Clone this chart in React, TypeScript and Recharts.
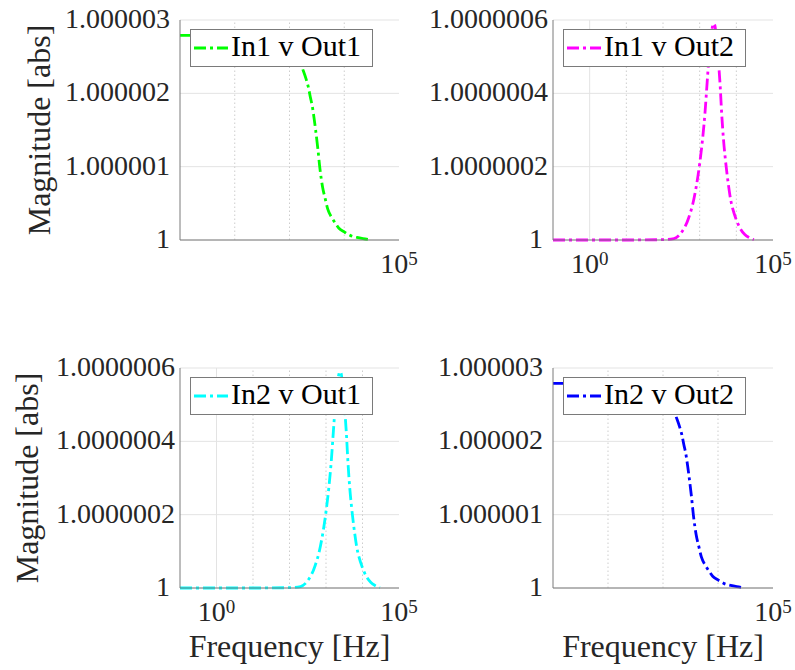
import {
  CartesianGrid,
  Legend,
  Line,
  LineChart,
  ReferenceLine,
  XAxis,
  YAxis,
} from "recharts";

const SERIF = "Liberation Serif";
const INK = "#262626";
const FRAME = "#7a7a7a";
const DASH_DOT = "12 4 3 4";
const LINE_W = 2.8;

// frequency grid shared by the four transfer paths [Hz]
const freqHz = [
  0.1, 1, 10, 100, 200, 300, 500, 700, 1000, 1200, 1400, 1600, 1800, 2000,
  2200, 2400, 2600, 2800, 3000, 3300, 3600, 4000, 4500, 5000, 6000, 7000,
  8000, 10000, 13000, 17000, 22000, 30000,
];

// |H| for each input/output pair
const in1Out1 = [
  1.00000279, 1.00000279, 1.00000279, 1.00000279, 1.00000278, 1.00000277,
  1.00000274, 1.0000027, 1.00000263, 1.00000257, 1.00000249, 1.0000024,
  1.0000023, 1.0000022, 1.00000209, 1.00000195, 1.00000183, 1.00000167,
  1.0000015, 1.00000124, 1.00000097, 1.00000073, 1.00000056, 1.00000042,
  1.0000003, 1.00000022, 1.00000016, 1.00000011, 1.00000006, 1.000000035,
  1.000000018, 1.000000003,
];
const in1Out2 = [
  1, 1, 1, 1.000000001, 1.000000004, 1.000000017, 1.00000006, 1.000000113,
  1.000000208, 1.000000275, 1.000000348, 1.00000043, 1.0000005, 1.000000545,
  1.000000578, 1.00000059, 1.000000585, 1.00000056, 1.000000525, 1.000000478,
  1.000000425, 1.000000342, 1.00000027, 1.000000222, 1.000000155, 1.00000011,
  1.000000085, 1.000000055, 1.00000003, 1.000000015, 1.000000007, 1.000000001,
];
const in2Out1 = [
  1, 1, 1, 1.000000001, 1.000000004, 1.000000017, 1.00000006, 1.000000113,
  1.000000208, 1.000000275, 1.000000348, 1.00000043, 1.0000005, 1.000000545,
  1.000000578, 1.00000059, 1.000000585, 1.00000056, 1.000000525, 1.000000478,
  1.000000425, 1.000000342, 1.00000027, 1.000000222, 1.000000155, 1.00000011,
  1.000000085, 1.000000055, 1.00000003, 1.000000015, 1.000000007, 1.000000001,
];
const in2Out2 = [
  1.00000279, 1.00000279, 1.00000279, 1.00000279, 1.00000278, 1.00000277,
  1.00000274, 1.0000027, 1.00000263, 1.00000257, 1.00000249, 1.0000024,
  1.0000023, 1.0000022, 1.00000209, 1.00000195, 1.00000183, 1.00000167,
  1.0000015, 1.00000124, 1.00000097, 1.00000073, 1.00000056, 1.00000042,
  1.0000003, 1.00000022, 1.00000016, 1.00000011, 1.00000006, 1.000000035,
  1.000000018, 1.000000003,
];

// axis ticks
const decadesWide = [0.1, 1, 10, 100, 1000, 10000, 100000];
const decadesNarrow = [10, 100, 1000, 10000, 100000];
const labelsWide = [1, 100000];
const labelsNarrow = [100000];
const ticksDirect = [1, 1.000001, 1.000002, 1.000003];
const ticksCross = [1, 1.0000002, 1.0000004, 1.0000006];

type PanelProps = {
  name: string;
  color: string;
  mag: number[];
  col: 0 | 1;
  row: 0 | 1;
  xTicks: number[];
  xLabels: number[];
  yTicks: number[];
  yDigits: number;
};

const COLS = [
  { left: 0, width: 420, yAxisWidth: 180, marginRight: 21 },
  { left: 400, width: 395, yAxisWidth: 153, marginRight: 22 },
];
const ROWS = [
  { top: 0, height: 300, marginTop: 20, xAxisHeight: 60 },
  { top: 340, height: 330, marginTop: 28, xAxisHeight: 82 },
];

const textStyle = (size: number) => ({ fontFamily: SERIF, fontSize: size });

function FreqTick(props: any) {
  const { x, y, payload, labels } = props;
  const v = payload.value as number;
  if (!labels.includes(v)) return <g />;
  const exp = Math.round(Math.log10(v));
  return (
    <text x={x} y={y + 33} textAnchor="middle" fill={INK} style={textStyle(28)}>
      10
      <tspan dy={-8} style={textStyle(19)}>
        {exp}
      </tspan>
    </text>
  );
}

function MagTick(props: any) {
  const { x, y, payload, digits } = props;
  const v = payload.value as number;
  const text = v === 1 ? "1" : v.toFixed(digits);
  // longer labels sit a little closer to the frame
  const gap = v === 1 || digits < 7 ? 10 : 5;
  return (
    <text x={x - gap} y={y + 8} textAnchor="end" fill={INK} style={textStyle(28)}>
      {text}
    </text>
  );
}

function LegendBox({ name, color }: { name: string; color: string }) {
  return (
    <div
      style={{
        boxSizing: "border-box",
        width: 183,
        height: 38,
        border: `1px solid ${FRAME}`,
        background: "#fff",
        position: "relative",
      }}
    >
      <svg
        width={181}
        height={36}
        style={{ position: "absolute", left: 0, top: 0, overflow: "visible" }}
      >
        <line
          x1={3}
          y1={18}
          x2={37}
          y2={18}
          stroke={color}
          strokeWidth={LINE_W}
          strokeDasharray={DASH_DOT}
        />
        <text x={40} y={26} fill="#000" style={textStyle(30)}>
          {name}
        </text>
      </svg>
    </div>
  );
}

function Panel(p: PanelProps) {
  const c = COLS[p.col];
  const r = ROWS[p.row];
  const xMin = p.xTicks[0];
  const xMax = p.xTicks[p.xTicks.length - 1];
  const yDomain = [p.yTicks[0], p.yTicks[p.yTicks.length - 1]];
  const rows = freqHz
    .map((f, i) => ({ f, mag: p.mag[i] }))
    .filter((d) => d.f >= xMin);
  const showY = p.col === 0;
  const showX = p.row === 1;
  // the title moves out when the tick labels are wider
  const yTitleX = p.yDigits < 7 ? 50 : 38;

  return (
    <div style={{ position: "absolute", left: c.left, top: r.top }}>
      <LineChart
        width={c.width}
        height={r.height}
        data={rows}
        margin={{ top: r.marginTop, right: c.marginRight, bottom: 0, left: 0 }}
      >
        <CartesianGrid vertical={false} stroke="#e3e3e3" />
        {p.xTicks.slice(1, -1).map((d) => (
          <ReferenceLine
            key={d}
            x={d}
            stroke={p.xLabels.includes(d) ? "#e3e3e3" : "#cdcdcd"}
            strokeDasharray={p.xLabels.includes(d) ? undefined : "1.5 2.5"}
          />
        ))}
        <XAxis
          dataKey="f"
          type="number"
          scale="log"
          domain={[xMin, xMax]}
          ticks={p.xTicks}
          interval={0}
          height={r.xAxisHeight}
          tickSize={0}
          tickMargin={0}
          tickLine={false}
          axisLine={{ stroke: FRAME }}
          tick={(t: any) => <FreqTick {...t} labels={p.xLabels} />}
          label={
            showX
              ? (l: any) => {
                  const vb = l.viewBox ?? {};
                  return (
                    <text
                      x={vb.x + vb.width / 2}
                      y={vb.y + 69}
                      textAnchor="middle"
                      fill={INK}
                      style={textStyle(32)}
                    >
                      Frequency [Hz]
                    </text>
                  );
                }
              : undefined
          }
        />
        <XAxis
          xAxisId="top"
          orientation="top"
          dataKey="f"
          type="number"
          scale="log"
          domain={[xMin, xMax]}
          height={0}
          tick={false}
          tickLine={false}
          axisLine={{ stroke: FRAME }}
        />
        <YAxis
          type="number"
          domain={yDomain}
          ticks={p.yTicks}
          interval={0}
          width={c.yAxisWidth}
          tickSize={0}
          tickMargin={0}
          tickLine={false}
          axisLine={{ stroke: FRAME }}
          tick={(t: any) => <MagTick {...t} digits={p.yDigits} />}
          label={
            showY
              ? (l: any) => {
                  const vb = l.viewBox ?? {};
                  const cx = vb.x + yTitleX;
                  const cy = vb.y + vb.height / 2;
                  return (
                    <text
                      transform={`translate(${cx},${cy}) rotate(-90)`}
                      textAnchor="middle"
                      fill={INK}
                      style={textStyle(32)}
                    >
                      Magnitude [abs]
                    </text>
                  );
                }
              : undefined
          }
        />
        <YAxis
          yAxisId="r"
          orientation="right"
          type="number"
          domain={yDomain}
          width={0}
          tick={false}
          tickLine={false}
          axisLine={{ stroke: FRAME }}
        />
        <Line
          type="monotone"
          dataKey="mag"
          name={p.name}
          stroke={p.color}
          strokeWidth={LINE_W}
          strokeDasharray={DASH_DOT}
          dot={false}
          activeDot={false}
          isAnimationActive={false}
        />
        <Legend
          layout="vertical"
          align="center"
          verticalAlign="middle"
          wrapperStyle={{
            top: r.marginTop + 9,
            left: c.yAxisWidth + 10,
            width: 183,
            height: 38,
          }}
          content={() => <LegendBox name={p.name} color={p.color} />}
        />
      </LineChart>
    </div>
  );
}

export default function App() {
  return (
    <div
      style={{
        position: "absolute",
        left: 0,
        top: 0,
        width: 795,
        height: 670,
        background: "#fff",
      }}
    >
      <Panel
        name="In1 v Out1"
        color="#00ff00"
        mag={in1Out1}
        col={0}
        row={0}
        xTicks={decadesNarrow}
        xLabels={labelsNarrow}
        yTicks={ticksDirect}
        yDigits={6}
      />
      <Panel
        name="In1 v Out2"
        color="#ff00ff"
        mag={in1Out2}
        col={1}
        row={0}
        xTicks={decadesWide}
        xLabels={labelsWide}
        yTicks={ticksCross}
        yDigits={7}
      />
      <Panel
        name="In2 v Out1"
        color="#00ffff"
        mag={in2Out1}
        col={0}
        row={1}
        xTicks={decadesWide}
        xLabels={labelsWide}
        yTicks={ticksCross}
        yDigits={7}
      />
      <Panel
        name="In2 v Out2"
        color="#0000ff"
        mag={in2Out2}
        col={1}
        row={1}
        xTicks={decadesNarrow}
        xLabels={labelsNarrow}
        yTicks={ticksDirect}
        yDigits={6}
      />
    </div>
  );
}
